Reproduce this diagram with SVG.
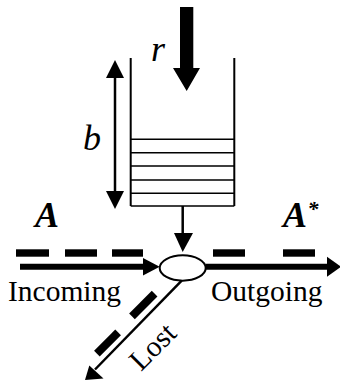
<svg xmlns="http://www.w3.org/2000/svg" width="340" height="385" viewBox="0 0 340 385">
  <style>
    text { font-family: "Liberation Serif", "Times New Roman", Times, serif; fill: #000; }
    .it { font-style: italic; }
    .bi { font-style: italic; font-weight: bold; }
    .wall { stroke: #000; stroke-width: 2; fill: none; }
    .slot { stroke: #000; stroke-width: 1.6; fill: none; }
    .thin { stroke: #000; stroke-width: 2.5; fill: none; }
    .thick { stroke: #000; stroke-width: 6; fill: none; }
    .dash { fill: #000; }
  </style>
  <rect width="340" height="385" fill="#fff"/>

  <!-- input rate r -->
  <g id="input-r">
    <polygon points="180,7 193.3,7 193.3,68 200,68 186.7,91 173,68 180,68" fill="#000"/>
    <text class="it" x="151" y="60.5" font-size="36">r</text>
  </g>

  <!-- buffer of size b -->
  <g id="buffer">
    <path class="wall" d="M130.7,58 V206 M234.3,58 V206"/>
    <path class="slot" d="M130.7,139.3 H234.3 M130.7,152.7 H234.3 M130.7,166 H234.3 M130.7,180 H234.3 M130.7,193.3 H234.3 M130.7,206 H234.3"/>
  </g>

  <g id="size-b">
    <line class="thin" x1="115" y1="74" x2="115" y2="195"/>
    <polygon points="115,60 124,78 106,78" fill="#000"/>
    <polygon points="115,209 124,191 106,191" fill="#000"/>
    <text class="it" x="83" y="150" font-size="36">b</text>
  </g>

  <!-- merge point -->
  <g id="merge">
    <ellipse cx="182.7" cy="268" rx="23" ry="12.7" fill="#fff" stroke="#000" stroke-width="2"/>
  </g>

  <!-- incoming stream A -->
  <g id="incoming">
    <rect class="dash" x="16" y="249.3" width="33" height="7.4"/>
    <rect class="dash" x="65" y="249.3" width="32" height="7.4"/>
    <rect class="dash" x="112" y="249.3" width="31" height="7.4"/>
    <text class="bi" x="35" y="227" font-size="36">A</text>
    <text x="8" y="301" font-size="29.5">Incoming</text>
  </g>

  <!-- outgoing stream A* -->
  <g id="outgoing">
    <rect class="dash" x="213" y="249.3" width="32" height="7.4"/>
    <rect class="dash" x="283" y="249.3" width="32" height="7.4"/>
    <text class="bi" x="283" y="227" font-size="36">A</text>
    <text class="bi" x="307.5" y="216" font-size="22">*</text>
    <text x="211" y="301" font-size="29.5">Outgoing</text>
  </g>

  <!-- lost stream -->
  <g id="lost">
    <rect class="dash" x="-16" y="-4" width="32" height="8" transform="translate(143.3,305) rotate(-45)"/>
    <rect class="dash" x="-15" y="-4" width="30" height="8" transform="translate(107.5,343) rotate(-45)"/>
    <text x="0" y="0" font-size="29.5" transform="translate(141,372) rotate(-45)">Lost</text>
  </g>

  <!-- connectors -->
  <g id="connectors">
    <line class="thin" x1="182.7" y1="206" x2="182.7" y2="236"/>
    <polygon points="182.7,252 193,233 174,233" fill="#000"/>

    <line class="thick" x1="20" y1="266.7" x2="145" y2="266.7"/>
    <polygon points="159.7,266.7 143,258 143,275.4" fill="#000"/>

    <line class="thick" x1="205.7" y1="266.7" x2="330" y2="266.7"/>
    <polygon points="341,266.7 327,256.7 327,276.7" fill="#000"/>

    <line class="thin" x1="181.7" y1="280.7" x2="95" y2="369.5"/>
    <polygon points="85,380 89.3,365.5 103.5,378.5" fill="#000"/>
  </g>
</svg>
